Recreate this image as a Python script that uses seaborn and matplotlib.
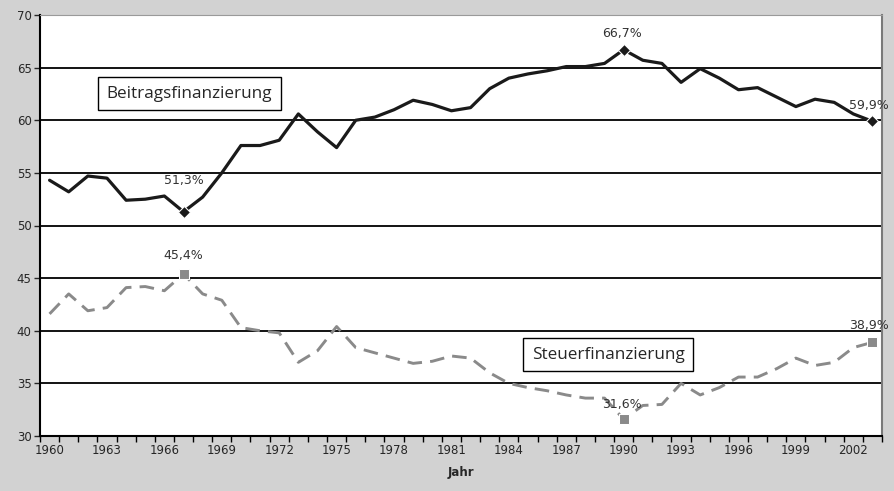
import numpy as np
import pandas as pd
import seaborn as sns
import matplotlib.pyplot as plt
from matplotlib.ticker import MultipleLocator, FixedLocator

sns.set_style("white")
plt.rcParams["font.family"] = ["DejaVu Sans"]

# ===================== DATA =====================
years = list(range(1960, 2004))

beitrag = [54.3, 53.2, 54.7, 54.5, 52.4, 52.5, 52.8, 51.3, 52.7, 55.0,
           57.6, 57.6, 58.1, 60.6, 58.9, 57.4, 60.0, 60.3, 61.0, 61.9,
           61.5, 60.9, 61.2, 63.0, 64.0, 64.4, 64.7, 65.1, 65.1, 65.4,
           66.7, 65.7, 65.4, 63.6, 64.9, 64.0, 62.9, 63.1, 62.2, 61.3,
           62.0, 61.7, 60.6, 59.9]

steuer = [41.6, 43.5, 41.9, 42.2, 44.1, 44.2, 43.8, 45.4, 43.5, 42.9,
          40.3, 40.0, 39.8, 37.0, 38.1, 40.4, 38.4, 37.9, 37.4, 36.9,
          37.1, 37.6, 37.4, 36.0, 35.0, 34.6, 34.3, 33.9, 33.6, 33.6,
          31.6, 32.9, 33.0, 35.0, 33.9, 34.6, 35.6, 35.6, 36.4, 37.4,
          36.7, 37.0, 38.4, 38.9]

highlight_years = [1967, 1990, 2003]
beitrag_labels = ["51,3%", "66,7%", "59,9%"]
steuer_labels = ["45,4%", "31,6%", "38,9%"]

df = pd.DataFrame({"Jahr": years, "Beitrag": beitrag, "Steuer": steuer})
marks = [years.index(y) for y in highlight_years]

# ===================== PLOT =====================
fig = plt.figure(figsize=(8.95, 4.91), dpi=100, facecolor="#d2d2d2")
ax = fig.add_axes([40 / 895, 55 / 491, 842 / 895, 421 / 491])
ax.set_facecolor("white")

sns.lineplot(data=df, x="Jahr", y="Beitrag", ax=ax, color="#1a1a1a",
             linewidth=2.3, marker="D", markersize=6, markevery=marks)
sns.lineplot(data=df, x="Jahr", y="Steuer", ax=ax, color="#8a8a8a",
             linewidth=2.1, linestyle=(0, (5, 2.8)), marker="s",
             markersize=7, markevery=marks)

# value labels
b_off = [(0, 31), (-2, 16), (-4, 16)]
s_off = [(0, 18), (-2, 15), (-3, 17)]
for i, idx in enumerate(marks):
    ax.annotate(beitrag_labels[i], (years[idx], beitrag[idx]),
                xytext=b_off[i], textcoords="offset pixels",
                ha="center", va="center", fontsize=9, color="#333333")
    ax.annotate(steuer_labels[i], (years[idx], steuer[idx]),
                xytext=s_off[i], textcoords="offset pixels",
                ha="center", va="center", fontsize=9, color="#333333")

# series boxes
box = dict(boxstyle="square,pad=0.5", fc="white", ec="black", lw=1)
ax.text(1967.3, 62.5, "Beitragsfinanzierung", ha="center", va="center",
        fontsize=12.3, family="Open Sans", bbox=box)
ax.text(1989.2, 37.7, "Steuerfinanzierung", ha="center", va="center",
        fontsize=12.3, family="Open Sans", bbox=box)

# axes
ax.set_xlim(1959.5, 2003.5)
ax.set_ylim(30, 70)
ax.xaxis.set_major_locator(FixedLocator(years[::3]))
ax.xaxis.set_minor_locator(FixedLocator(np.arange(1959.5, 2004, 1)))
ax.yaxis.set_major_locator(MultipleLocator(5))
ax.tick_params(axis="x", which="major", length=0, labelsize=8.5, pad=6)
ax.tick_params(axis="x", which="minor", length=4, width=1, direction="out",
               color="black", bottom=True)
ax.tick_params(axis="y", length=4, width=1, direction="out", left=True,
               labelsize=8.5, pad=2)
ax.yaxis.grid(True, color="black", linewidth=1.3)
ax.set_axisbelow(True)

ax.set_xlabel("Jahr", fontsize=8.5, fontweight="bold", labelpad=6)
ax.set_ylabel("")

ax.spines["left"].set_color("black")
ax.spines["left"].set_linewidth(1.5)
ax.spines["bottom"].set_color("black")
ax.spines["bottom"].set_linewidth(1.5)
ax.spines["top"].set_color("#9a9a9a")
ax.spines["right"].set_color("#7a7a7a")
ax.spines["right"].set_linewidth(1.5)

fig.savefig("out.png", dpi=100, facecolor=fig.get_facecolor())
